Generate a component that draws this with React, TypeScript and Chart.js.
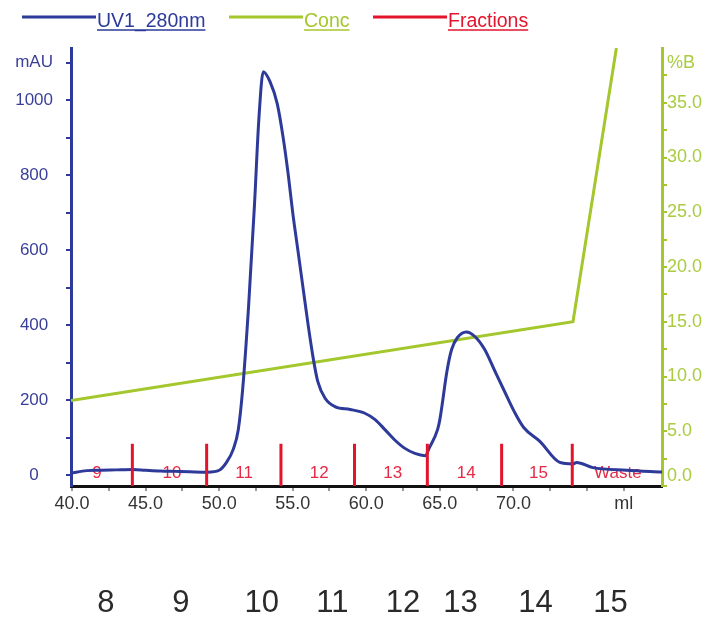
import React, { useEffect, useRef } from 'react';
import { Chart, registerables } from 'chart.js';

Chart.register(...registerables);

// ---------- data ----------
const uvMl = [39.93, 41.0, 42.0, 43.0, 44.1, 45.0, 46.0, 47.0, 48.0, 49.2, 50.0, 50.5, 50.95, 51.3, 51.6, 52.0, 52.4, 52.7, 53.0, 53.45, 53.95, 54.35, 54.7, 55.0, 55.35, 55.7, 56.05, 56.4, 56.7, 57.2, 57.9, 58.9, 59.9, 60.6, 61.3, 61.9, 62.6, 63.3, 64.0, 64.3, 64.85, 65.0, 65.5, 65.8, 66.2, 66.8, 67.4, 68.05, 68.7, 69.4, 70.05, 70.7, 71.8, 73.15, 74.05, 74.3, 75.4, 77.7, 80.1];
const uvMau = [5, 12, 13, 14, 15, 13, 11, 10, 9, 8, 13, 34, 68, 121, 230, 450, 720, 950, 1076, 1050, 990, 900, 800, 700, 600, 500, 400, 310, 250, 205, 182, 175, 165, 148, 120, 95, 72, 58, 52, 74, 122, 148, 281, 335, 367, 382, 369, 335, 281, 223, 170, 127, 90, 34, 30, 34, 20, 13, 8];

const concMl = [39.93, 74.05, 77.0];
const concPctB = [7.8, 15.0, 40.0];

const fractionCuts = [44.1, 49.15, 54.2, 59.2, 64.15, 69.2, 74.0];
const fractionNames = ['9', '10', '11', '12', '13', '14', '15', 'Waste'];
const fractionLabelMl = [41.7, 46.8, 51.7, 56.8, 61.8, 66.8, 71.7, 77.1];
const fractionMarkTop = 84; // mAU

const xTickValues = [40, 42.5, 45, 47.5, 50, 52.5, 55, 57.5, 60, 62.5, 65, 67.5, 70, 72.5, 75, 77.5];
const xTickLabels = ['40.0', '', '45.0', '', '50.0', '', '55.0', '', '60.0', '', '65.0', '', '70.0', '', '', 'ml'];

const mauTickValues = [0, 100, 200, 300, 400, 500, 600, 700, 800, 900, 1000, 1100];
const mauTickLabels = ['0', '', '200', '', '400', '', '600', '', '800', '', '1000', 'mAU'];

const pctTickValues = [0, 2.5, 5, 7.5, 10, 12.5, 15, 17.5, 20, 22.5, 25, 27.5, 30, 32.5, 35, 37.5];
const pctTickLabels = ['0.0', '', '5.0', '', '10.0', '', '15.0', '', '20.0', '', '25.0', '', '30.0', '', '35.0', ''];
const pctUnitLabel = '%B';
const pctUnitAt = 38.6;

const legendNames = ['UV1_280nm', 'Conc', 'Fractions'];

const bottomNumbers = ['8', '9', '10', '11', '12', '13', '14', '15'];
const bottomNumberMl = [42.3, 47.4, 52.9, 57.7, 62.5, 66.4, 71.5, 76.6];

// ---------- styles ----------
const BLUE = '#2D3A9A';
const BLUE_TEXT = '#3A3F98';
const GREEN = '#A3C72C';
const GREEN_TEXT = '#A9CC40';
const RED = '#E3142C';
const RED_TEXT = '#E52A45';
const FONT = '"Liberation Sans", Arial, Helvetica, sans-serif';

const overlayPlugin = {
  id: 'overlay',
  beforeDatasetsDraw(chart: any) {
    const ctx = chart.ctx;
    const xs = chart.scales.x;
    const yL = chart.scales.yL;
    ctx.save();
    ctx.font = `17px ${FONT}`;
    ctx.fillStyle = RED_TEXT;
    ctx.textAlign = 'center';
    ctx.textBaseline = 'middle';
    fractionNames.forEach((n, i) => {
      ctx.fillText(n, xs.getPixelForValue(fractionLabelMl[i]), yL.getPixelForValue(5));
    });
    ctx.restore();
  },
  afterDraw(chart: any) {
    const ctx = chart.ctx;
    const xs = chart.scales.x;
    const yR = chart.scales.yR;
    ctx.save();

    // right axis extras
    ctx.font = `18px ${FONT}`;
    ctx.fillStyle = GREEN_TEXT;
    ctx.textAlign = 'left';
    ctx.textBaseline = 'middle';
    const rx = yR.left + 5;
    ctx.fillText(pctTickLabels[0], rx, yR.getPixelForValue(0) - 10);
    ctx.fillText(pctUnitLabel, rx, yR.getPixelForValue(pctUnitAt));

    // legend
    const colors = [BLUE, GREEN, RED];
    const lineStarts = [22, 229, 373];
    const lineLen = 74;
    ctx.font = `19.5px ${FONT}`;
    legendNames.forEach((name, i) => {
      const x0 = lineStarts[i];
      ctx.strokeStyle = colors[i];
      ctx.lineWidth = 3;
      ctx.beginPath();
      ctx.moveTo(x0, 17);
      ctx.lineTo(x0 + lineLen, 17);
      ctx.stroke();
      const tx = x0 + lineLen + 1;
      ctx.fillStyle = colors[i];
      ctx.textAlign = 'left';
      ctx.textBaseline = 'alphabetic';
      ctx.fillText(name, tx, 27);
      const w = ctx.measureText(name).width;
      ctx.lineWidth = 1.5;
      ctx.beginPath();
      ctx.moveTo(tx, 30);
      ctx.lineTo(tx + w, 30);
      ctx.stroke();
    });

    // bottom numbers
    ctx.font = `31px "Liberation Sans Narrow", ${FONT}`;
    ctx.fillStyle = '#2a2a2a';
    ctx.textAlign = 'center';
    ctx.textBaseline = 'middle';
    bottomNumbers.forEach((n, i) => {
      ctx.fillText(n, xs.getPixelForValue(bottomNumberMl[i]), 603);
    });
    ctx.restore();
  },
};

export default function App() {
  const canvasRef = useRef<HTMLCanvasElement | null>(null);

  useEffect(() => {
    const canvas = canvasRef.current;
    if (!canvas) return;

    const fractionPoints: any[] = [];
    fractionCuts.forEach((c) => {
      fractionPoints.push({ x: c, y: -29 });
      fractionPoints.push({ x: c, y: fractionMarkTop });
      fractionPoints.push({ x: c, y: null });
    });

    const chart = new Chart(canvas, {
      type: 'line',
      data: {
        datasets: [
          {
            label: 'Fractions',
            data: fractionPoints,
            yAxisID: 'yL',
            borderColor: RED,
            borderWidth: 3,
            pointRadius: 0,
            spanGaps: false,
            tension: 0,
          },
          {
            label: 'UV1_280nm',
            data: uvMl.map((x, i) => ({ x, y: uvMau[i] })),
            yAxisID: 'yL',
            borderColor: BLUE,
            borderWidth: 3,
            pointRadius: 0,
            cubicInterpolationMode: 'monotone',
          },
          {
            label: 'Conc',
            data: concMl.map((x, i) => ({ x, y: concPctB[i] })),
            yAxisID: 'yR',
            borderColor: GREEN,
            borderWidth: 3,
            pointRadius: 0,
            tension: 0,
          },
        ],
      },
      options: {
        animation: false,
        responsive: false,
        events: [],
        layout: { padding: { top: 48, left: 0, right: 0, bottom: 0 } },
        plugins: {
          legend: { display: false },
          tooltip: { enabled: false },
          title: { display: false },
        },
        scales: {
          x: {
            type: 'linear',
            min: 39.93,
            max: 80.1,
            afterBuildTicks: (s: any) => {
              s.ticks = xTickValues.map((v) => ({ value: v }));
            },
            afterFit: (s: any) => {
              s.height = 131;
            },
            border: { display: true, color: '#111111', width: 3 },
            grid: { drawOnChartArea: false, drawTicks: true, tickLength: 5, color: '#999999', lineWidth: 2 },
            ticks: {
              autoSkip: false,
              maxRotation: 0,
              padding: 2,
              color: '#333333',
              font: { size: 18, family: FONT },
              callback: (v: any) => {
                const i = xTickValues.indexOf(Number(v));
                return i >= 0 ? xTickLabels[i] : '';
              },
            },
          },
          yL: {
            type: 'linear',
            position: 'left',
            min: -29,
            max: 1139,
            afterBuildTicks: (s: any) => {
              s.ticks = mauTickValues.map((v) => ({ value: v }));
            },
            afterFit: (s: any) => {
              s.width = 71;
            },
            border: { display: true, color: BLUE, width: 3 },
            grid: { drawOnChartArea: false, drawTicks: true, tickLength: 5, color: BLUE, lineWidth: 2 },
            ticks: {
              autoSkip: false,
              crossAlign: 'center',
              padding: 13,
              color: BLUE_TEXT,
              font: { size: 17, family: FONT },
              callback: (v: any) => {
                const i = mauTickValues.indexOf(Number(v));
                return i >= 0 ? mauTickLabels[i] : '';
              },
            },
          },
          yR: {
            type: 'linear',
            position: 'right',
            min: 0,
            max: 40,
            afterBuildTicks: (s: any) => {
              s.ticks = pctTickValues.map((v) => ({ value: v }));
            },
            afterFit: (s: any) => {
              s.width = 44;
            },
            border: { display: true, color: GREEN, width: 3 },
            grid: { drawOnChartArea: false, drawTicks: true, tickLength: 5, color: GREEN, lineWidth: 2 },
            ticks: {
              autoSkip: false,
              crossAlign: 'near',
              padding: 0,
              color: GREEN_TEXT,
              font: { size: 18, family: FONT },
              callback: (v: any) => {
                const i = pctTickValues.indexOf(Number(v));
                if (i <= 0) return '';
                return pctTickLabels[i];
              },
            },
          },
        },
      },
      plugins: [overlayPlugin],
    } as any);

    return () => chart.destroy();
  }, []);

  return (
    <div style={{ position: 'fixed', left: 0, top: 0, width: 706, height: 617, background: '#ffffff' }}>
      <canvas ref={canvasRef} width={706} height={617} style={{ display: 'block' }} />
    </div>
  );
}
